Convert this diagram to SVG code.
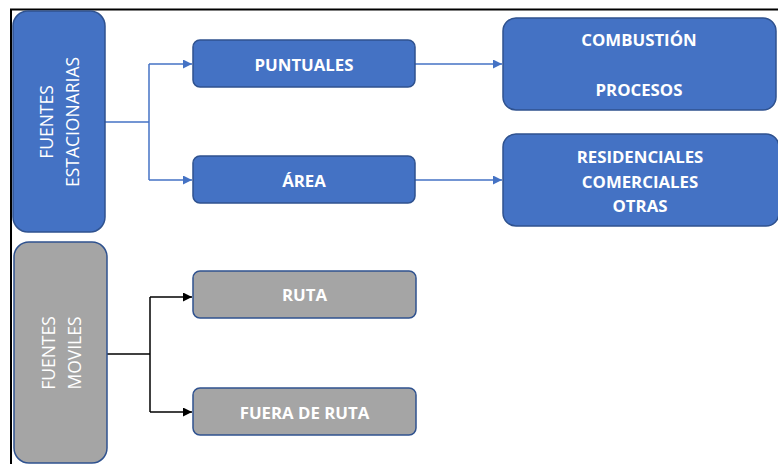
<svg xmlns="http://www.w3.org/2000/svg" width="778" height="464" viewBox="0 0 778 464">
<style>
.blue{fill:#4472c4;stroke:#2f528f;stroke-width:1.5}
.gray{fill:#a5a5a5;stroke:#2f528f;stroke-width:1.5}
.lbl{font-family:"Open Sans","Liberation Sans",sans-serif;font-size:16.8px;font-weight:bold;fill:#ffffff;text-anchor:middle}
.vlbl{font-family:"Open Sans","Liberation Sans",sans-serif;font-size:17.5px;font-weight:500;fill:#ffffff;text-anchor:middle}
.cb{fill:none;stroke:#4472c4;stroke-width:1.5}
.ck{fill:none;stroke:#000000;stroke-width:1.5}
</style>
<defs>
<marker id="ab" viewBox="0 0 10 10" refX="10" refY="5" markerWidth="6" markerHeight="6" orient="auto" markerUnits="strokeWidth"><path d="M0,0 L10,5 L0,10 z" fill="#4472c4"/></marker>
<marker id="ak" viewBox="0 0 10 10" refX="10" refY="5" markerWidth="6" markerHeight="6" orient="auto" markerUnits="strokeWidth"><path d="M0,0 L10,5 L0,10 z" fill="#000000"/></marker>
</defs>
<rect width="778" height="464" fill="#ffffff"/>
<path d="M11,464 V9.5 H778" fill="none" stroke="#000" stroke-width="2"/>
<g id="connectors">
<path class="cb" d="M105,122 H149"/>
<path class="cb" d="M149,64 V180"/>
<path class="cb" d="M149,64 H192" marker-end="url(#ab)"/>
<path class="cb" d="M149,180 H192" marker-end="url(#ab)"/>
<path class="cb" d="M415,64 H502" marker-end="url(#ab)"/>
<path class="cb" d="M415,180 H502" marker-end="url(#ab)"/>
<path class="ck" d="M107,354 H150"/>
<path class="ck" d="M150,297 V412"/>
<path class="ck" d="M150,297 H192" marker-end="url(#ak)"/>
<path class="ck" d="M150,412 H192" marker-end="url(#ak)"/>
</g>
<g id="fuentes-estacionarias">
<rect class="blue" x="13" y="11" width="92" height="221" rx="15"/>
<g transform="translate(53,122) rotate(-90)"><text class="vlbl" x="0" y="0">FUENTES</text></g>
<g transform="translate(79,122) rotate(-90)"><text class="vlbl" x="0" y="0">ESTACIONARIAS</text></g>
</g>
<g id="fuentes-moviles">
<rect class="gray" x="14" y="242" width="93" height="221" rx="15"/>
<g transform="translate(55,353) rotate(-90)"><text class="vlbl" x="0" y="0">FUENTES</text></g>
<g transform="translate(81,353) rotate(-90)"><text class="vlbl" x="0" y="0">MOVILES</text></g>
</g>
<g id="puntuales">
<rect class="blue" x="193" y="40" width="222" height="47" rx="7"/>
<text class="lbl" x="304" y="71">PUNTUALES</text>
</g>
<g id="area">
<rect class="blue" x="193" y="156" width="222" height="47" rx="7"/>
<text class="lbl" x="304" y="187">ÁREA</text>
</g>
<g id="combustion">
<rect class="blue" x="503" y="18" width="273" height="92" rx="13"/>
<text class="lbl" x="639" y="46">COMBUSTIÓN</text>
<text class="lbl" x="639" y="96">PROCESOS</text>
</g>
<g id="residenciales">
<rect class="blue" x="503" y="134" width="276" height="92" rx="13"/>
<text class="lbl" x="640" y="163">RESIDENCIALES</text>
<text class="lbl" x="640" y="187.5">COMERCIALES</text>
<text class="lbl" x="640" y="212">OTRAS</text>
</g>
<g id="ruta">
<rect class="gray" x="193" y="271" width="223" height="47" rx="7"/>
<text class="lbl" x="304.5" y="301">RUTA</text>
</g>
<g id="fuera-de-ruta">
<rect class="gray" x="193" y="388" width="223" height="47" rx="7"/>
<text class="lbl" x="304.5" y="419">FUERA DE RUTA</text>
</g>
</svg>
